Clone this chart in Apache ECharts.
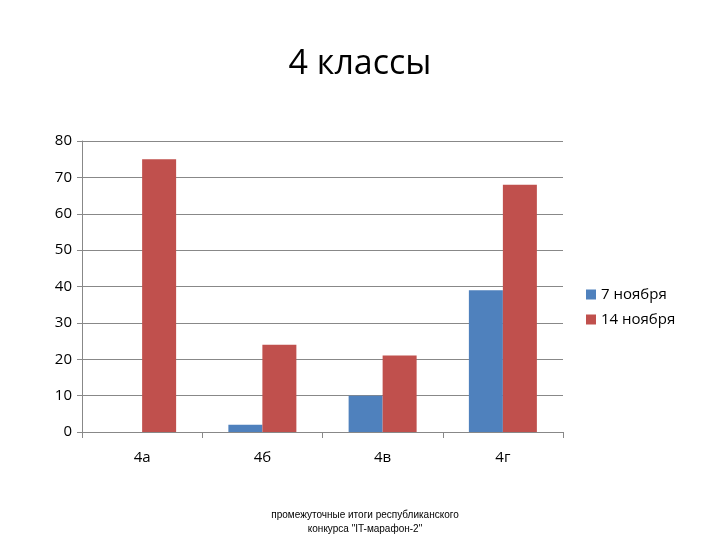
<!DOCTYPE html>
<html><head><meta charset="utf-8">
<script src="https://cdn.jsdelivr.net/npm/echarts@6/dist/echarts.min.js"></script>
<style>html,body{margin:0;padding:0;background:#fff}#c{width:720px;height:540px}</style>
</head><body><div id="c"></div>
<script>
const categories = ['4а','4б','4в','4г'];
const nov7 = [0, 2, 10, 39];
const nov14 = [75, 24, 21, 68];
const chart = echarts.init(document.getElementById('c'));
chart.setOption({
  animation:false,
  textStyle:{fontFamily:'Open Sans, Liberation Sans, sans-serif'},
  title:[{text:'4 классы',left:'center',top:42,textStyle:{fontSize:34,fontWeight:'normal',color:'#000',fontFamily:'Open Sans, sans-serif'}},
    {text:'промежуточные итоги республиканского\nконкурса "IT-марафон-2"',left:360,textAlign:'center',top:503,textStyle:{fontSize:10,fontWeight:'normal',color:'#000',lineHeight:14,fontFamily:'Liberation Sans, sans-serif'}}],
  legend:{orient:'vertical',left:581,top:282,itemWidth:10,itemHeight:10,itemGap:10,icon:'rect',
    textStyle:{fontSize:15,color:'#000'},data:['7 ноября','14 ноября']},
  grid:{left:82,right:157,top:141,bottom:108},
  xAxis:{type:'category',data:categories,axisLine:{lineStyle:{color:'#888'}},
    axisTick:{show:true,length:6,lineStyle:{color:'#888'}},
    axisLabel:{fontSize:15,color:'#000',margin:18}},
  yAxis:{type:'value',min:0,max:80,interval:10,axisLine:{show:true,lineStyle:{color:'#888'}},
    axisTick:{show:true,length:5,inside:false,lineStyle:{color:'#888'}},
    splitLine:{lineStyle:{color:'#888'}},axisLabel:{fontSize:15,color:'#000',margin:10}},
  series:[
    {name:'7 ноября',type:'bar',data:nov7,barWidth:34,barGap:'0%',itemStyle:{color:'#4F81BD'}},
    {name:'14 ноября',type:'bar',data:nov14,barWidth:34,itemStyle:{color:'#C0504D'}}
  ]
});
</script></body></html>
